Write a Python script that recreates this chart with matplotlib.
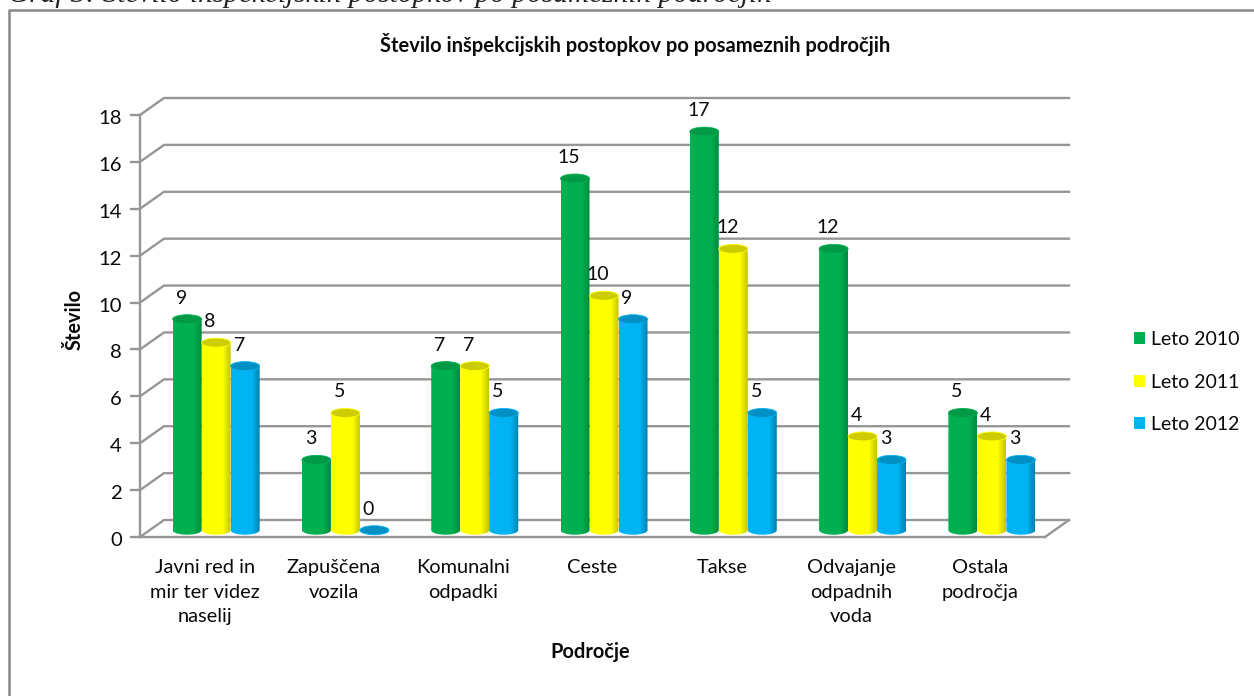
import numpy as np
import matplotlib
matplotlib.use('Agg')
import matplotlib.pyplot as plt
import matplotlib.transforms as mtransforms
from matplotlib.colors import LinearSegmentedColormap
from matplotlib.lines import Line2D
from matplotlib.patches import Ellipse, Patch, Polygon

categories = ['Javni red in\nmir ter videz\nnaselij', 'Zapuščena\nvozila', 'Komunalni\nodpadki', 'Ceste',
              'Takse', 'Odvajanje\nodpadnih\nvoda', 'Ostala\npodročja']
leto_2010 = [9, 3, 7, 15, 17, 12, 5]
leto_2011 = [8, 5, 7, 10, 12, 4, 4]
leto_2012 = [7, 0, 5, 9, 5, 3, 3]
series_names = ['Leto 2010', 'Leto 2011', 'Leto 2012']
y_ticks = [0, 2, 4, 6, 8, 10, 12, 14, 16, 18]

W, H = 1254, 696
plt.rcParams['font.family'] = ['Lato', 'DejaVu Sans']

GRID = '#969696'
TEXT = '#0a0a0a'
# main colour, right edge, top cap
styles = [('#00b050', '#008a3e', '#009a46'),
          ('#ffff00', '#c4c400', '#cccc00'),
          ('#00b4f4', '#0082ae', '#0090c4')]

fig = plt.figure(figsize=(W / 100, H / 100), dpi=100, facecolor='white')
ax = fig.add_axes([140 / W, 1 - 537 / H, 905 / W, 422 / H])
ax.set_xlim(0, 7)
ax.set_ylim(0, 18)

# depth of the 3d box in data units
px_x = 7 / 905
px_y = 18 / 422
depth_x = 24 * px_x
depth_y = 17 * px_y

for v in y_ticks:
    ax.plot([0, depth_x, 7 + depth_x], [v, v + depth_y, v + depth_y], color=GRID, lw=1.7,
            clip_on=False, zorder=1, solid_joinstyle='round')
ax.plot([7, 7 + depth_x], [0, depth_y], color=GRID, lw=1.7, clip_on=False, zorder=1)

bar_w = 29 * px_x
cap_h = 9 * px_y
shade = np.linspace(0, 1, 64).reshape(1, -1)


def cylinder(xc, base, value, style, z):
    main, edge, top = style
    cmap = LinearSegmentedColormap.from_list('c', [(0, main), (0.72, main), (1, edge)])
    t = np.linspace(np.pi, 2 * np.pi, 30)
    pts = [(xc + bar_w / 2 * np.cos(a), base + cap_h / 2 * np.sin(a)) for a in t]
    pts += [(xc + bar_w / 2, base + value), (xc - bar_w / 2, base + value)]
    body = Polygon(pts, closed=True, fc='none', ec='none', transform=ax.transData)
    ax.add_patch(body)
    im = ax.imshow(shade, cmap=cmap, aspect='auto', zorder=z, interpolation='bilinear',
                   extent=[xc - bar_w / 2, xc + bar_w / 2, base - cap_h, base + value])
    im.set_clip_path(body)
    ax.add_patch(Ellipse((xc, base + value), bar_w, cap_h, fc=top, ec=main, lw=0.6, zorder=z + 0.1))


all_series = [leto_2010, leto_2011, leto_2012]
base = 0.29
for i in range(len(categories)):
    xc0 = i + 0.5 + 11.5 * px_x
    for j, vals in enumerate(all_series):
        xc = xc0 + (j - 1) * bar_w
        cylinder(xc, base, vals[i], styles[j], 3 + j * 0.3)
        ax.text(xc - 6 * px_x, base + vals[i] + 21 * px_y, str(vals[i]), fontsize=14, color=TEXT,
                ha='center', va='center', zorder=6)
ax.set_xlim(0, 7)
ax.set_ylim(0, 18)

ax.set_facecolor('none')
for s in ['top', 'right']:
    ax.spines[s].set_visible(False)
for s in ['left', 'bottom']:
    ax.spines[s].set_color(GRID)
    ax.spines[s].set_linewidth(1.7)
ax.set_yticks(y_ticks)
ax.set_xticks(np.arange(len(categories)) + 0.5)
ax.set_xticklabels(categories, fontsize=14.4, linespacing=1.52, color=TEXT, va='top')
ax.tick_params(axis='x', length=0, pad=16)
ax.tick_params(axis='y', length=7, width=1.7, color=GRID, labelsize=14.6, pad=6, labelcolor=TEXT)
down = mtransforms.ScaledTranslation(0, -2 / 100, fig.dpi_scale_trans)
for lab in ax.get_yticklabels():
    lab.set_transform(lab.get_transform() + down)

fig.text(590 / W, 1 - 652 / H, 'Področje', fontsize=14.4, fontweight='bold', ha='center', va='center', color=TEXT)
fig.text(75 / W, 1 - 320 / H, 'Število', fontsize=14.4, fontweight='bold', rotation=90, ha='center', va='center',
         color=TEXT)
fig.text(635 / W, 1 - 44 / H, 'Število inšpekcijskih postopkov po posameznih področjih', fontsize=14.5,
         fontweight='bold', ha='center', va='center', color=TEXT)

# caption cut off by the top of the image
fig.text(8 / W, 1 - 2 / H, 'Graf 3: Število inšpekcijskih postopkov po posameznih področjih', fontsize=21.2,
         family='Liberation Serif', style='italic', ha='left', va='baseline', color='#222222')

# chart frame
fig.add_artist(Line2D([8.5 / W, 8.5 / W, 1], [0, 1 - 10 / H, 1 - 10 / H], color='#868686', lw=1.8))

handles = [Patch(fc=st[0], ec='none') for st in styles]
fig.legend(handles, series_names, loc='center left', bbox_to_anchor=(1116 / W, 1 - 382 / H), frameon=False,
           fontsize=14, handlelength=0.58, handleheight=0.58, handletextpad=0.3, labelspacing=1.3,
           labelcolor=TEXT)

fig.savefig('out.png', dpi=100)
